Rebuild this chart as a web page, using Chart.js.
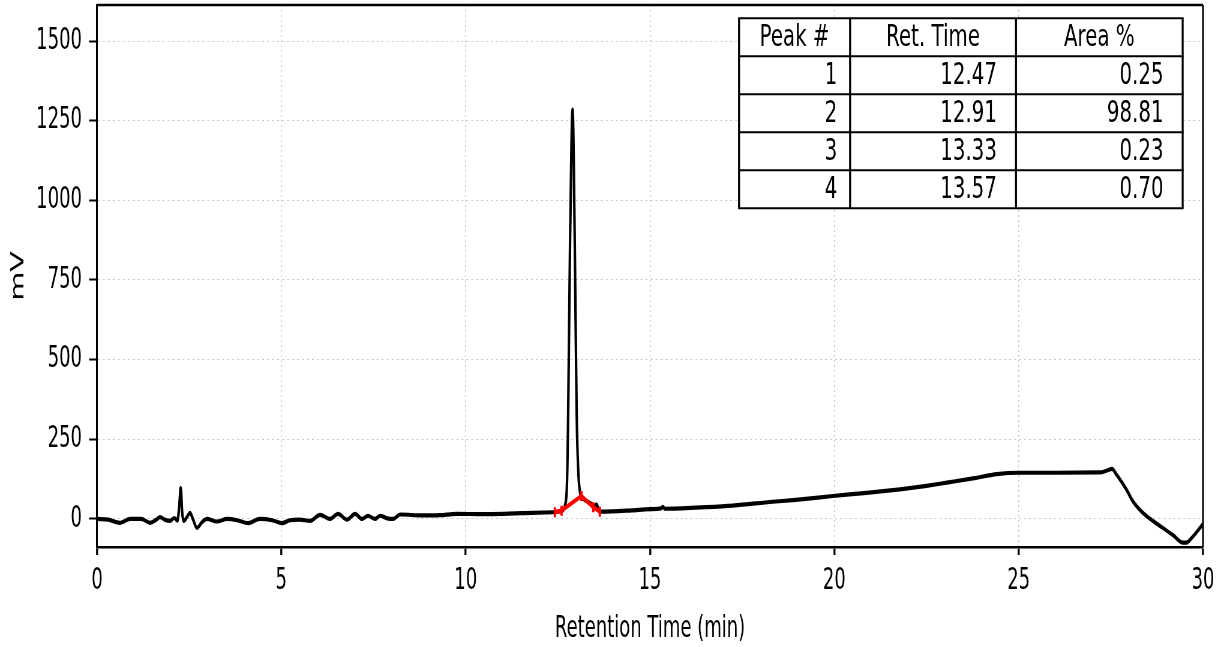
<!DOCTYPE html>
<html>
<head>
<meta charset="utf-8">
<script src="https://cdn.jsdelivr.net/npm/chart.js@4/dist/chart.umd.min.js"></script>
<style>
  html, body { margin: 0; padding: 0; overflow: hidden; background: #fff; }
  /* the reference is a horizontally squeezed render, so draw wide and squeeze */
  #wrap { width: 2047px; height: 647px; transform: scaleX(0.6); transform-origin: 0 0; }
</style>
</head>
<body>
<div id="wrap"><canvas id="chromChart"></canvas></div>
<script>
// Chromatogram trace (time in min, signal in mV)
const times = [0, 0.3, 0.62, 0.9, 1.2, 1.44, 1.6, 1.71, 1.85, 1.98, 2.1, 2.18, 2.23, 2.27, 2.31, 2.35, 2.45, 2.52, 2.6, 2.71,
  2.85, 2.98, 3.25, 3.53, 3.8, 4.1, 4.42, 4.75, 5.02, 5.23, 5.5, 5.78, 6.05, 6.32, 6.54, 6.78, 7.0, 7.19, 7.35, 7.54,
  7.68, 7.87, 8.03, 8.22, 8.84, 9.3, 9.76, 10.39, 11.5, 12.37, 12.6, 12.7, 12.75, 12.78, 12.83, 12.9, 12.96, 13.01, 13.05, 13.1,
  13.2, 13.35, 13.5, 13.55, 13.6, 13.68, 14.5, 15.0, 15.3, 15.35, 15.4, 16.5, 17.25, 18.33, 18.88, 19.96, 20.88, 21.78, 22.5, 23.05,
  23.8, 24.41, 25.03, 26.0, 27.2, 27.4, 27.53, 27.66, 27.93, 28.1, 28.37, 28.91, 29.2, 29.45, 29.55, 29.69, 30];
const signal = [0, -2, -12, 0, 0, -12, -3, 6, -3, -6, 3, -5, 40, 98, 20, -6, 8, 19, 0, -28,
  -10, 0, -8, 0, -4, -13, 0, -4, -13, -4, -2, -6, 13, 0, 16, -2, 16, 0, 10, 0,
  10, 2, 0, 14, 11, 12, 16, 15, 18, 21, 25, 45, 120, 333, 855, 1285, 855, 333, 160, 85,
  62, 52, 42, 46, 32, 23, 27, 31, 33, 38, 32, 37, 42, 54, 59, 72, 82, 93, 104, 114,
  128, 141, 145, 145, 146, 152, 157, 138, 91, 55, 19, -28, -52, -74, -74, -60, -16];

// Integration baseline (red)
const baseTimes = [12.42, 12.6, 13.14, 13.46, 13.64];
const baseSignal = [21, 26, 72, 37, 23];

// Axis ticks
const xTicks = [0, 5, 10, 15, 20, 25, 30];
const yTicks = [0, 250, 500, 750, 1000, 1250, 1500];

// Peak table
const tableHeader = ['Peak #', 'Ret. Time', 'Area %'];
const peakNums = ['1', '2', '3', '4'];
const retTimes = ['12.47', '12.91', '13.33', '13.57'];
const areas = ['0.25', '98.81', '0.23', '0.70'];

Chart.defaults.font.family = 'DejaVu Sans';
Chart.defaults.color = '#000';

const framePlugin = {
  id: 'frameAndTable',
  afterDraw(chart) {
    const ctx = chart.ctx;
    const a = chart.chartArea;
    ctx.save();
    // top and right spines
    ctx.strokeStyle = '#000';
    ctx.lineWidth = 2.5;
    ctx.beginPath();
    ctx.moveTo(a.left, a.top);
    ctx.lineTo(a.right, a.top);
    ctx.stroke();
    ctx.lineWidth = 3;
    ctx.beginPath();
    ctx.moveTo(a.right, a.top);
    ctx.lineTo(a.right, a.bottom);
    ctx.stroke();

    // peak table
    const w = a.right - a.left;
    const cols = [0.5805, 0.6809, 0.8309, 0.9816].map(f => a.left + f * w);
    const top = a.top + 13.3;
    const rowH = 38;
    const nRows = peakNums.length + 1;
    ctx.fillStyle = '#fff';
    ctx.fillRect(cols[0], top, cols[3] - cols[0], rowH * nRows);
    ctx.strokeStyle = '#000';
    ctx.lineWidth = 2;
    for (let r = 0; r <= nRows; r++) {
      ctx.beginPath();
      ctx.moveTo(cols[0] - 1.5, top + r * rowH);
      ctx.lineTo(cols[3] + 1.5, top + r * rowH);
      ctx.stroke();
    }
    ctx.lineWidth = 3.3;
    cols.forEach(x => {
      ctx.beginPath();
      ctx.moveTo(x, top);
      ctx.lineTo(x, top + rowH * nRows);
      ctx.stroke();
    });

    ctx.fillStyle = '#000';
    ctx.font = '30px "DejaVu Sans"';
    ctx.textBaseline = 'alphabetic';
    const drawText = (txt, x, y, align) => {
      ctx.save();
      ctx.translate(x, y);
      ctx.scale(1.1, 1);
      ctx.textAlign = align;
      ctx.fillText(txt, 0, 0);
      ctx.restore();
    };
    const baseOff = rowH / 2 + 9;
    tableHeader.forEach((h, i) => {
      drawText(h, (cols[i] + cols[i + 1]) / 2, top + baseOff, 'center');
    });
    const cells = [peakNums, retTimes, areas];
    for (let r = 0; r < peakNums.length; r++) {
      cells.forEach((col, i) => {
        const cw = cols[i + 1] - cols[i];
        drawText(col[r], cols[i + 1] - 0.115 * cw, top + (r + 1) * rowH + baseOff, 'right');
      });
    }
    ctx.restore();
  }
};

new Chart(document.getElementById('chromChart').getContext('2d'), {
  type: 'line',
  data: {
    datasets: [
      {
        label: 'baseline',
        data: baseTimes.map((t, i) => ({ x: t, y: baseSignal[i] })),
        borderColor: '#ff0000',
        backgroundColor: '#ff0000',
        borderWidth: 4.5,
        pointStyle: 'line',
        rotation: 90,
        pointRadius: 5,
        pointBorderWidth: 4,
        tension: 0
      },
      {
        label: 'signal',
        data: times.map((t, i) => ({ x: t, y: signal[i] })),
        borderColor: '#000',
        borderWidth: 4.2,
        pointRadius: 0,
        cubicInterpolationMode: 'monotone'
      }
    ]
  },
  options: {
    responsive: true,
    maintainAspectRatio: false,
    animation: false,
    layout: { autoPadding: false, padding: { top: 5, right: 42, left: 0, bottom: 0 } },
    plugins: { legend: { display: false }, tooltip: { enabled: false } },
    scales: {
      x: {
        type: 'linear',
        min: 0,
        max: 30,
        afterBuildTicks: s => { s.ticks = xTicks.map(v => ({ value: v })); },
        afterFit: s => { s.height = 100; s.paddingLeft = 0; s.paddingRight = 0; },
        grid: { color: '#c8c8c8', lineWidth: 1.6, tickLength: 8, tickColor: '#000', tickWidth: 3.3 },
        border: { color: '#000', width: 2.5, dash: [2, 3] },
        ticks: { font: { size: 30 }, padding: 8, maxRotation: 0, callback: v => String(v) },
        title: { display: true, text: 'Retention Time (min)', font: { size: 30 }, padding: { top: 0, bottom: 0 } }
      },
      y: {
        min: -88,
        max: 1613,
        afterBuildTicks: s => { s.ticks = yTicks.map(v => ({ value: v })); },
        afterFit: s => { s.width = 161.7; s.paddingTop = 0; s.paddingBottom = 0; },
        grid: { color: '#c8c8c8', lineWidth: 1, tickLength: 13.3, tickColor: '#000', tickWidth: 2 },
        border: { color: '#000', width: 3, dash: [3.3, 5] },
        ticks: { font: { size: 30 }, padding: 11.7, callback: v => String(v) },
        title: { display: true, text: 'mV', font: { size: 30 }, padding: { top: 13, bottom: 12 } }
      }
    }
  },
  plugins: [framePlugin]
});
</script>
</body>
</html>
